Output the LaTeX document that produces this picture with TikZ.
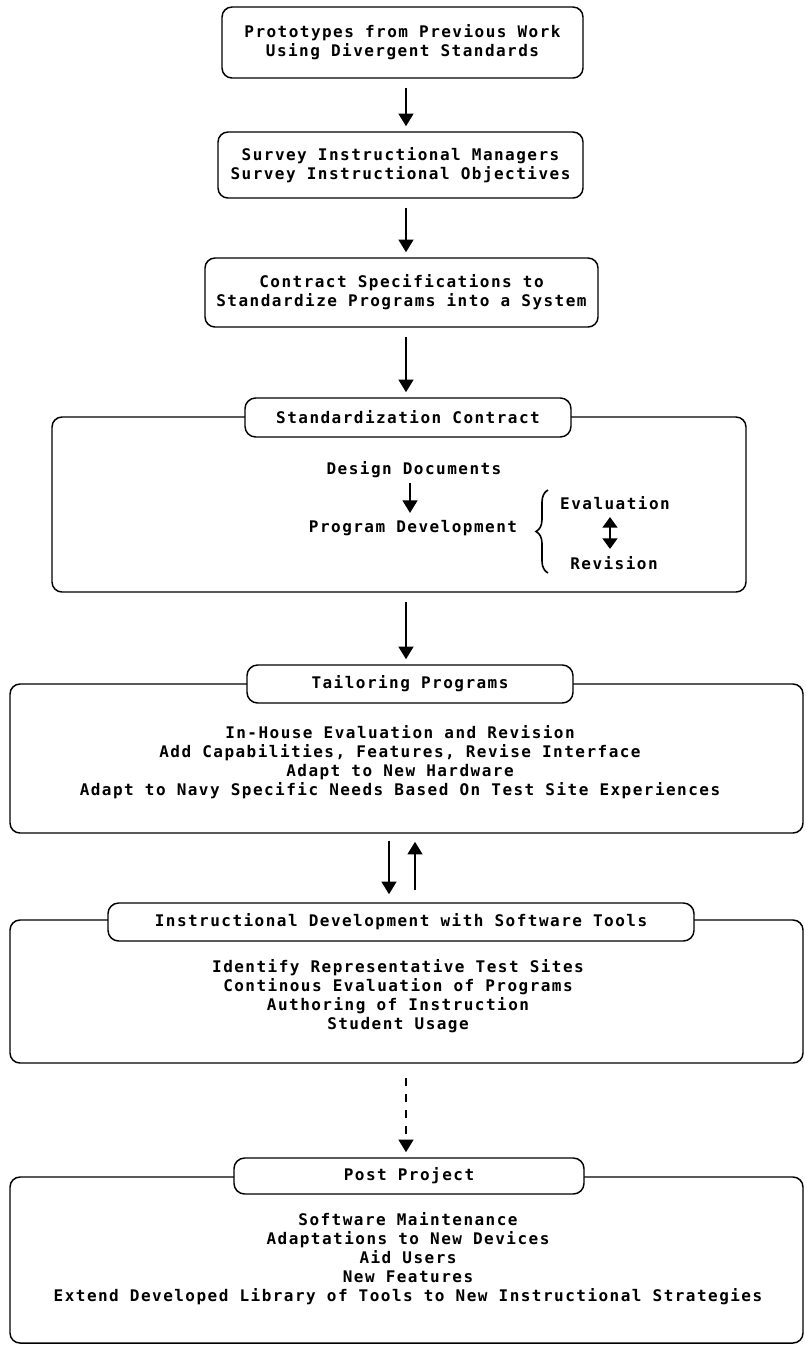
\documentclass[tikz,border=0pt]{standalone}
\usepackage{fontspec}
\newfontfamily\plotfont{DejaVu Sans Mono}[LetterSpace=9.2]
\usetikzlibrary{arrows.meta,decorations.pathreplacing,calc}

\tikzset{
  every node/.style={font=\plotfont\bfseries\fontsize{12}{14.3}\selectfont,
    align=center, inner sep=0pt},
  stepbox/.style={draw, line width=1.1pt, rounded corners=7.5pt},
  outerbox/.style={draw, line width=1.1pt, rounded corners=7.5pt,
    minimum width=594.75pt},
  tabbox/.style={draw, fill=white, line width=1.1pt, rounded corners=8pt},
  flow/.style={line width=1.9pt, -{Triangle[width=11pt,length=9.5pt]},
    shorten <=6.75pt, shorten >=3.75pt},
  twoway/.style={line width=1.9pt,
    {Triangle[width=11pt,length=8pt]}-{Triangle[width=11pt,length=8pt]}},
  bracket/.style={line width=1.2pt, decorate,
    decoration={brace, amplitude=9pt}},
}

\begin{document}
\begin{tikzpicture}[x=0.75pt,y=-0.75pt]
\useasboundingbox (0,0) rectangle (806,1347);
\coordinate (col) at (406,0);

% ---- opening stages ----
\node[stepbox, minimum width=270.75pt, minimum height=53.25pt] (proto) at (402.5,42.5)
  {Prototypes from Previous Work\\Using Divergent Standards};
\node[stepbox, minimum width=273.75pt, minimum height=49.5pt] (survey) at (400.5,165)
  {Survey Instructional Managers\\Survey Instructional Objectives};
\node[stepbox, minimum width=294.75pt, minimum height=51.75pt] (spec) at (401.5,292.5)
  {Contract Specifications to\\Standardize Programs into a System};

% ---- standardization contract ----
\node[stepbox, minimum width=520.5pt, minimum height=131.25pt] (stdbox) at (399,504.5) {};
\node[tabbox, minimum width=244.5pt, minimum height=29.25pt] (stdtab) at (408,417.5)
  {Standardization Contract};
\node (design) at (414,470) {Design Documents};
\node (progdev) at (413,528) {Program Development};
\node (eval) at (615,503) {Evaluation};
\node (rev) at (614,563) {Revision};
\coordinate (brtop) at (548,490);
\coordinate (brbot) at (548,573);

% ---- tailoring programs ----
\node[outerbox, minimum height=111.75pt] (tailbox) at (406.5,758.5) {};
\node[tabbox, minimum width=244.5pt, minimum height=28.5pt] (tailtab) at (410,684)
  {Tailoring Programs};
\node (tailtext) at (400,762.5)
  {In-House Evaluation and Revision\\
   Add Capabilities, Features, Revise Interface\\
   Adapt to New Hardware\\
   Adapt to Navy Specific Needs Based On Test Site Experiences};

% ---- instructional development ----
\node[outerbox, minimum height=107.25pt] (instbox) at (406.5,991.5) {};
\node[tabbox, minimum width=439.5pt, minimum height=28.5pt] (insttab) at (401,922)
  {Instructional Development with Software Tools};
\node (insttext) at (398,996)
  {Identify Representative Test Sites\\
   Continous Evaluation of Programs\\
   Authoring of Instruction\\
   Student Usage};

% ---- post project ----
\node[outerbox, minimum height=124.5pt] (postbox) at (406.5,1260) {};
\node[tabbox, minimum width=262.5pt, minimum height=27pt] (posttab) at (409,1176)
  {Post Project};
\node (posttext) at (408,1259)
  {Software Maintenance\\
   Adaptations to New Devices\\
   Aid Users\\
   New Features\\
   Extend Developed Library of Tools to New Instructional Strategies};

% ---- connectors ----
\draw[flow] (proto.south -| col) -- (survey.north -| col);
\draw[flow] (survey.south -| col) -- (spec.north -| col);
\draw[flow] (spec.south -| col) -- (stdtab.north -| col);
\draw[flow] (stdbox.south -| col) -- (tailtab.north -| col);
\draw[flow, shorten <=5.25pt, shorten >=6pt] ($(tailbox.south -| col)+(-17,0)$) -- ($(insttab.north -| col)+(-17,0)$);
\draw[flow, shorten <=9pt, shorten >=6pt] ($(insttab.north -| col)+(9,0)$) -- ($(tailbox.south -| col)+(9,0)$);
\draw[flow, dash pattern=on 6pt off 6pt, shorten <=10.5pt] (instbox.south -| col) -- (posttab.north -| col);

% inside the standardization contract
\draw[flow, shorten <=0pt, shorten >=0pt] ($(design.center)+(-4,13)$) -- ($(progdev.center)+(-3,-15)$);
\draw[twoway] ($(eval.center)+(-5,14)$) -- ($(rev.center)+(-4,-14)$);
\draw[bracket] (brbot) -- (brtop);

\end{tikzpicture}
\end{document}
